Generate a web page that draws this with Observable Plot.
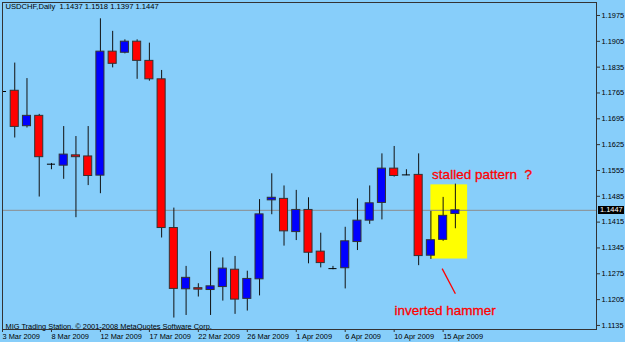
<!DOCTYPE html>
<html><head><meta charset="utf-8">
<script src="https://cdn.jsdelivr.net/npm/d3@7"></script>
<script src="https://cdn.jsdelivr.net/npm/@observablehq/plot@0.6"></script>
<style>
html,body{margin:0;padding:0;background:#87CEFA;}
#chart{position:relative;width:625px;height:342px;}
#chart svg{display:block;}
.tag{position:absolute;background:#000;color:#fff;font:7.4px 'Liberation Sans',Arial,sans-serif;line-height:8px;height:8px;width:24px;padding-left:2px;white-space:nowrap;}
</style></head><body><div id="chart"></div>
<script>
// ---- data ----
const dates = ["3 Mar 2009","4 Mar 2009","5 Mar 2009","6 Mar 2009","8 Mar 2009","9 Mar 2009","10 Mar 2009","11 Mar 2009","12 Mar 2009","13 Mar 2009","15 Mar 2009","16 Mar 2009","17 Mar 2009","18 Mar 2009","19 Mar 2009","20 Mar 2009","22 Mar 2009","23 Mar 2009","24 Mar 2009","25 Mar 2009","26 Mar 2009","27 Mar 2009","30 Mar 2009","31 Mar 2009","1 Apr 2009","2 Apr 2009","3 Apr 2009","5 Apr 2009","6 Apr 2009","7 Apr 2009","8 Apr 2009","9 Apr 2009","10 Apr 2009","12 Apr 2009","13 Apr 2009","14 Apr 2009","15 Apr 2009","16 Apr 2009"];
const open  = [1.1769,1.1771,1.1675,1.1703,1.1572,1.1568,1.1596,1.1593,1.1541,1.1877,1.1874,1.1904,1.1852,1.1802,1.1399,1.1233,1.1236,1.1231,1.1239,1.1286,1.1207,1.1260,1.1474,1.1478,1.1388,1.1448,1.1335,1.1289,1.1290,1.1361,1.1419,1.1467,1.1560,1.1543,1.1543,1.1324,1.1367,1.1437];
const high  = [1.1785,1.1846,1.1804,1.1707,1.1574,1.1674,1.1647,1.1674,1.1966,1.1932,1.1909,1.1909,1.1900,1.1826,1.1453,1.1295,1.1248,1.1335,1.1318,1.1322,1.1282,1.1476,1.1546,1.1513,1.1501,1.1481,1.1385,1.1295,1.1401,1.1478,1.1513,1.1600,1.1620,1.1557,1.1600,1.1444,1.1482,1.1518];
const low   = [1.1679,1.1643,1.1670,1.1483,1.1557,1.1531,1.1427,1.1514,1.1492,1.1833,1.1871,1.1802,1.1797,1.1372,1.1155,1.1162,1.1212,1.1162,1.1201,1.1165,1.1174,1.1215,1.1435,1.1350,1.1365,1.1302,1.1291,1.1286,1.1234,1.1338,1.1409,1.1421,1.1537,1.1541,1.1297,1.1314,1.1363,1.1397];
const close = [1.1769,1.1673,1.1703,1.1591,1.1572,1.1598,1.1591,1.1540,1.1877,1.1844,1.1904,1.1852,1.1802,1.1399,1.1234,1.1264,1.1232,1.1241,1.1289,1.1205,1.1261,1.1436,1.1481,1.1390,1.1448,1.1332,1.1304,1.1289,1.1363,1.1419,1.1466,1.1560,1.1540,1.1543,1.1323,1.1366,1.1432,1.1447];
const yTicks = [1.1975,1.1905,1.1835,1.1765,1.1695,1.1625,1.1555,1.1485,1.1415,1.1345,1.1275,1.1205,1.1135];
const tickDates = ["3 Mar 2009","8 Mar 2009","12 Mar 2009","17 Mar 2009","22 Mar 2009","26 Mar 2009","1 Apr 2009","6 Apr 2009","10 Apr 2009","15 Apr 2009"];
const headerText = "USDCHF,Daily\u00a0\u00a01.1437 1.1518 1.1397 1.1447";
const captionText = "MIG Trading Station, \u00a9 2001-2008 MetaQuotes Software Corp.";
const lastPrice = [1.1447];
// annotations (bar index, price)
const highlightBox = [{x1: 35, x2: 38, y1: 1.1315, y2: 1.1516}];
const pointerLine = [{x1: 35.92, y1: 1.1289, x2: 37.0, y2: 1.1221}];
const notes = [
  {text: "stalled pattern\u00a0\u00a0?", x: 35.1, y: 1.1544},
  {text: "inverted hammer", x: 32.03, y: 1.1174}
];

// ---- build ----
const candles = dates.map((d, i) => ({i, date: d, open: open[i], high: high[i], low: low[i], close: close[i]}));
const bodies = candles.filter(d => Math.abs(d.close - d.open) >= 0.0001);
const dojis = candles.filter(d => Math.abs(d.close - d.open) < 0.0001);
const half = 0.33;
const xTickIdx = tickDates.map(t => dates.indexOf(t));
const FONT = "'Liberation Sans', Arial, sans-serif";
const W = 625, H = 342, MR = 29;

const plot = Plot.plot({
  width: W, height: H,
  marginLeft: 2, marginRight: MR, marginTop: 2, marginBottom: 13,
  style: {background: "#87CEFA", fontFamily: FONT, fontSize: "7.4px", color: "#000", overflow: "visible"},
  x: {domain: [0, 48.53], axis: null},
  y: {domain: [1.1124, 1.20102], axis: null},
  color: {type: "identity"},
  marks: [
    Plot.rect(highlightBox, {x1: "x1", x2: "x2", y1: "y1", y2: "y2", fill: "#ffff00"}),
    Plot.ruleY(lastPrice, {stroke: "#8c8c8c", strokeWidth: 1}),
    Plot.ruleX(candles, {x: "i", y1: "low", y2: "high", stroke: "#111", strokeWidth: 1, clip: true}),
    Plot.rect(bodies, {x1: d => d.i - half, x2: d => d.i + half, y1: "open", y2: "close",
      fill: d => d.close > d.open ? "#0000ff" : "#ff0000", stroke: "#333", strokeWidth: 1, clip: true}),
    Plot.ruleY(dojis, {x1: d => d.i - half, x2: d => d.i + half, y: "close", stroke: "#000", strokeWidth: 1, clip: true}),
    Plot.link(pointerLine, {x1: "x1", y1: "y1", x2: "x2", y2: "y2", stroke: "#ff0000", strokeWidth: 1.3}),
    Plot.text(notes, {x: "x", y: "y", text: "text", textAnchor: "start", fill: "#ff0000", stroke: "#ff0000", strokeWidth: 0.3, fontSize: 13.5}),
    Plot.text([headerText], {frameAnchor: "top-left", dx: 3, dy: 1, lineAnchor: "top", textAnchor: "start", fill: "#000", fontSize: 7.6}),
    Plot.text([captionText], {frameAnchor: "bottom-left", dx: 3, dy: -1, lineAnchor: "bottom", textAnchor: "start", fill: "#000"}),
    Plot.frame({stroke: "#333"}),
    Plot.axisY(yTicks, {anchor: "right", tickFormat: d3.format(".4f"), tickSize: 3, tickPadding: 2, label: null, stroke: "#333"}),
    Plot.axisX(xTickIdx, {anchor: "bottom", tickFormat: i => dates[i], tickSize: 3, tickPadding: 1, textAnchor: "start", label: null, stroke: "#333"})
  ]
});
const chart = document.getElementById("chart");
chart.appendChild(plot);

// current price tag on the right axis (positioned with the plot's own y scale)
const ys = plot.scale("y");
for (const p of lastPrice) {
  const tag = document.createElement("div");
  tag.className = "tag";
  tag.style.left = (W - MR + 2) + "px";
  tag.style.top = (ys.apply(p) - 4) + "px";
  tag.textContent = d3.format(".4f")(p);
  chart.appendChild(tag);
}
</script></body></html>
